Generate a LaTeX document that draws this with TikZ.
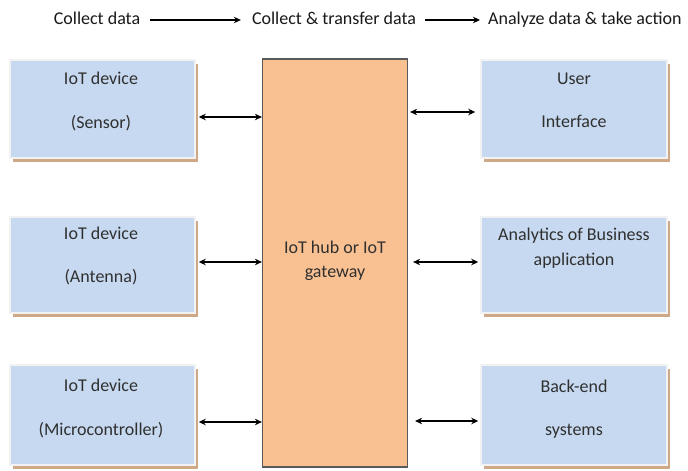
\documentclass[tikz,border=0pt]{standalone}
\usepackage{fontspec}
\setmainfont{Carlito}
\usetikzlibrary{arrows.meta,calc,shadows}
\definecolor{boxblue}{HTML}{C6D9F0}
\definecolor{boxedge}{HTML}{F2F2F2}
\definecolor{shade}{HTML}{CFA888}
\definecolor{hubfill}{HTML}{F9C191}
\definecolor{hubedge}{HTML}{5A5A5A}
\definecolor{txt}{HTML}{303030}
\tikzset{
  devbox/.style={draw=boxedge, line width=1.5pt, fill=boxblue,
    minimum width=185pt, minimum height=98pt, inner sep=0pt,
    drop shadow={shadow xshift=3pt, shadow yshift=-4pt, fill=shade, opacity=1}},
  hubbox/.style={draw=hubedge, line width=1.2pt, fill=hubfill,
    minimum width=145pt, minimum height=408pt, inner sep=0pt},
  lbl/.style={text=txt, inner sep=0pt, text height=12pt, text depth=4pt},
  toplbl/.style={text=black!90, inner sep=0pt, text height=12pt, text depth=4pt},
  link/.style={{Stealth[length=7pt,width=6.5pt]}-{Stealth[length=7pt,width=6.5pt]}, line width=1.1pt},
  flow/.style={-{Stealth[length=7pt,width=6.5pt]}, line width=1.1pt}
}
\begin{document}
\begin{tikzpicture}[x=1pt,y=-1pt,font=\fontsize{18}{22}\selectfont]
\useasboundingbox[fill=white] (0,0) rectangle (688,471);

% stage headings along the top
\node[toplbl] (t1) at (97,20) {Collect data};
\node[toplbl] (t2) at (334,20) {Collect \& transfer data};
\node[toplbl, anchor=west] (t3) at (488,20) {Analyze data \& take action};
\draw[flow, shorten <=10pt, shorten >=11pt] (t1.east) -- (t2.west);
\draw[flow, shorten <=9pt, shorten >=8pt] (t2.east) -- (t3.west);

% central hub
\node[hubbox] (hub) at (335,263) {};
\node[lbl] (h1) at (335,249) {IoT hub or IoT};
\node[lbl] (h2) at (335,273) {gateway};

% devices on the left
\node[devbox] (s1) at (102.5,109) {};
\node[devbox, minimum height=96pt] (s2) at (102.5,265) {};
\node[devbox, minimum height=100pt] (s3) at (102.5,415) {};
\node[lbl] (s1a) at (101,80) {IoT device};
\node[lbl] (s1b) at (101,124) {(Sensor)};
\node[lbl] (s2a) at (101,235) {IoT device};
\node[lbl] (s2b) at (101,278) {(Antenna)};
\node[lbl] (s3a) at (101,387) {IoT device};
\node[lbl] (s3b) at (101,431) {(Microcontroller)};

% applications on the right
\node[devbox, minimum width=186pt] (r1) at (574,109) {};
\node[devbox, minimum width=186pt, minimum height=96pt] (r2) at (574,265) {};
\node[devbox, minimum width=186pt, minimum height=100pt] (r3) at (574,415) {};
\node[lbl] (r1a) at (574,80) {User};
\node[lbl] (r1b) at (574,123) {Interface};
\node[lbl] (r2a) at (574,236) {Analytics of Business};
\node[lbl] (r2b) at (574,261) {application};
\node[lbl] (r3a) at (574,388) {Back-end};
\node[lbl] (r3b) at (574,431) {systems};

% two-way links to and from the hub
\coordinate (a1) at ($(s1.east)+(3,8)$);
\coordinate (a2) at ($(s2.east)+(3,-3)$);
\coordinate (a3) at ($(s3.east)+(3,7)$);
\draw[link] (a1) -- (hub.west |- a1);
\draw[link] (a2) -- (hub.west |- a2);
\draw[link] (a3) -- (hub.west |- a3);
\coordinate (b1) at ($(r1.west)+(-5,3)$);
\coordinate (b2) at ($(r2.west)+(-2,-3)$);
\coordinate (b3) at ($(r3.west)+(-2,6)$);
\draw[link] (hub.east |- b1) ++(2,0) -- (b1);
\draw[link] ($(hub.east |- b2)+(5,0)$) -- (b2);
\draw[link] ($(hub.east |- b3)+(7,0)$) -- (b3);
\end{tikzpicture}
\end{document}
